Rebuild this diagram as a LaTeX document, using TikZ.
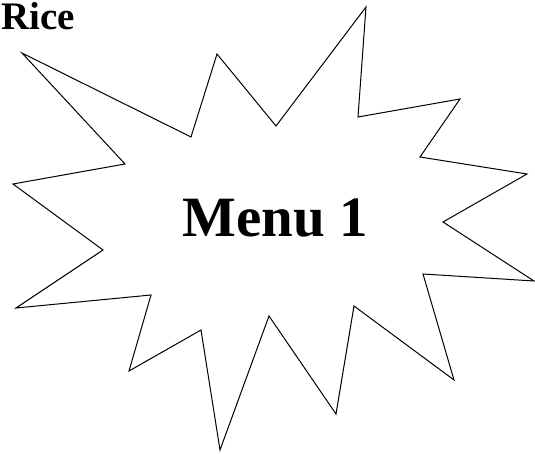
\documentclass[tikz,border=0pt]{standalone}
\usepackage{fontspec}
\setmainfont{Liberation Serif}
\usetikzlibrary{positioning}
\tikzset{
  burst/.style={draw,line width=1pt,line join=miter},
  label text/.style={font=\bfseries,inner sep=0pt},
}
\begin{document}
\begin{tikzpicture}[x=1pt,y=-1pt]
  \useasboundingbox (0,0) rectangle (535,454);
  \clip (0,0) rectangle (535,454);
  % the star burst
  \draw[burst] (22,53) -- (191,137) -- (217,54) -- (276,126) -- (366,7)
    -- (358,117) -- (460,99) -- (420,157) -- (527,174) -- (443,222)
    -- (534,281) -- (423,274) -- (454,380) -- (354,306) -- (336,414)
    -- (269,316) -- (220,450) -- (201,330) -- (129,371) -- (151,295)
    -- (16,308) -- (103,250) -- (13,184) -- (125,164) -- cycle;
  \node[label text,anchor=base,font=\fontsize{57}{60}\selectfont\bfseries] (menu) at (275,237) {Menu 1};
  \node[label text,anchor=base east,font=\fontsize{39}{42}\selectfont\bfseries] (rice) at (75,30) {Rice};
\end{tikzpicture}
\end{document}
